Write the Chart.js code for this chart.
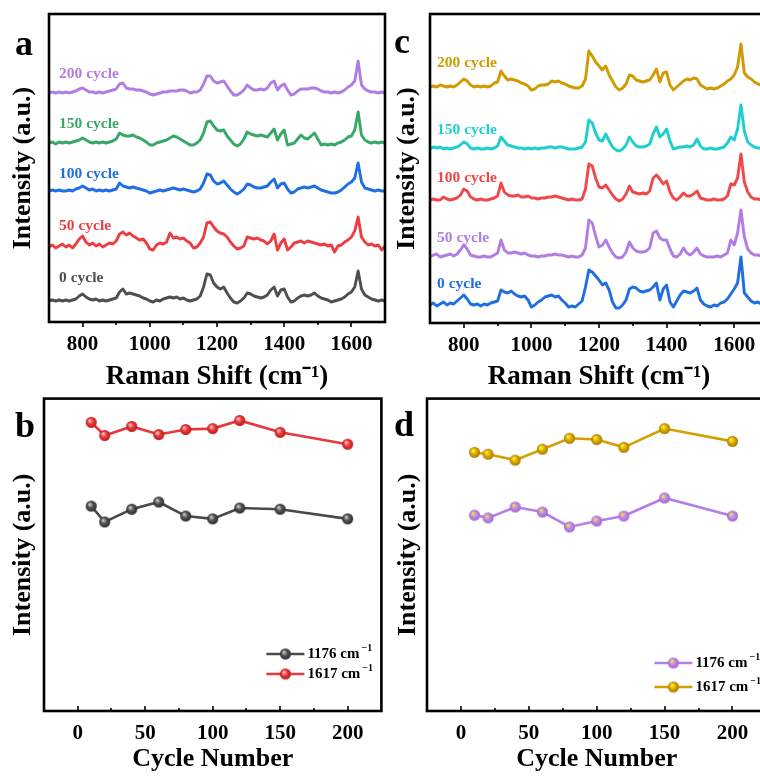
<!DOCTYPE html>
<html>
<head>
<meta charset="utf-8">
<script src="https://cdn.jsdelivr.net/npm/chart.js@4.4.1/dist/chart.umd.min.js"></script>
<style>
  html, body { margin: 0; padding: 0; background: #fff; }
  body { width: 760px; height: 776px; overflow: hidden; position: relative; }
  canvas { position: absolute; }
</style>
</head>
<body>
<canvas id="chartA" width="390" height="390" style="left:0;top:0"></canvas>
<canvas id="chartC" width="390" height="390" style="left:385px;top:0"></canvas>
<canvas id="chartB" width="390" height="386" style="left:0;top:390px"></canvas>
<canvas id="chartD" width="390" height="386" style="left:385px;top:390px"></canvas>
<script>
const FONT = "'Liberation Serif', 'Times New Roman', serif";

// raman shift grid (cm-1)
const wavenumbers = [
  700, 710, 720, 730, 740, 750, 760, 770, 780, 790,
  800, 810, 820, 830, 840, 850, 860, 870, 880, 890,
  900, 910, 920, 930, 940, 950, 960, 970, 980, 990,
  1000, 1010, 1020, 1030, 1040, 1050, 1060, 1070, 1080, 1090,
  1100, 1110, 1120, 1130, 1140, 1150, 1160, 1170, 1180, 1190,
  1200, 1210, 1220, 1230, 1240, 1250, 1260, 1270, 1280, 1290,
  1300, 1310, 1320, 1330, 1340, 1350, 1360, 1370, 1380, 1390,
  1400, 1410, 1420, 1430, 1440, 1450, 1460, 1470, 1480, 1490,
  1500, 1510, 1520, 1530, 1540, 1550, 1560, 1570, 1580, 1590,
  1600, 1610, 1620, 1630, 1640, 1650, 1660, 1670, 1680, 1690,
  1700];
const cycleNames = ['0 cycle', '50 cycle', '100 cycle', '150 cycle', '200 cycle'];

// panel a spectra (height above each trace's own baseline)
const aCycle0 = [
  0, 1, 0, 1, 0, 1, 0, 1, 2, 5,
  7, 4, 2, 1, 2, 0, 1, 0, 1, 2,
  3, 9, 12, 7, 8, 7, 6, 5, 3, 2,
  0, -1, 1, 0, 2, 3, 4, 3, 4, 2,
  3, 1, 0, 1, 2, 5, 14, 27, 26, 18,
  14, 12, 14, 8, 3, -1, -2, 0, 3, 8,
  7, 5, 4, 3, 4, 6, 11, 14, 5, 11,
  12, 4, -1, 0, 3, 5, 6, 5, 6, 8,
  5, 3, 2, 1, -1, 0, 1, 2, 4, 7,
  9, 14, 30, 12, 6, 4, 2, 1, 0, 1,
  0];
const aCycle50 = [
  0, 2, -1, 1, 3, 0, 2, -1, 3, 8,
  11, 5, 2, 4, 1, 3, 0, 2, 4, 3,
  6, 13, 15, 12, 14, 11, 9, 7, 8, 4,
  -2, -3, 2, 4, 3, 5, 14, 9, 10, 8,
  9, 6, 4, -1, 0, 4, 10, 24, 25, 20,
  16, 14, 13, 10, 5, 1, -2, -1, 1, 10,
  9, 8, 9, 7, 6, 3, 6, 13, -3, 4,
  8, -3, 0, 4, 5, 6, 4, 6, 5, 4,
  3, 2, 3, 1, 2, -5, 1, 2, 5, 7,
  10, 16, 30, 10, 5, 2, 3, 1, 2, -3,
  1];
const aCycle100 = [
  0, 1, 0, 1, 0, 0, 1, 0, 2, 3,
  5, 3, 1, 2, 0, 1, 0, 1, 0, 1,
  2, 8, 5, 4, 3, 4, 3, 2, 1, 0,
  -2, -1, 0, 1, 0, 1, 2, 3, 2, 1,
  2, 1, 0, -1, 0, 2, 8, 17, 16, 10,
  7, 8, 10, 6, 2, -1, -3, -1, 2, 7,
  6, 4, 3, 3, 4, 5, 9, 12, 3, 7,
  8, 2, -2, -1, 2, 3, 4, 3, 4, 5,
  3, 1, 0, -1, -2, -2, -1, 1, 4, 7,
  9, 13, 28, 9, 3, 2, 1, 0, 1, 0,
  0];
const aCycle150 = [
  0, 1, -1, 1, 0, 1, 0, 1, 2, 3,
  5, 3, 1, 0, 1, 0, 1, 0, 1, 2,
  4, 10, 8, 7, 7, 8, 6, 5, 3, 1,
  -2, -2, 0, 1, 2, 3, 5, 7, 6, 4,
  2, 0, -2, -2, 0, 3, 10, 21, 22, 17,
  13, 12, 13, 7, 3, -1, -3, -1, 4, 11,
  9, 8, 7, 8, 7, 6, 10, 14, 3, 9,
  13, -2, -1, 0, 4, 8, 5, 4, 7, 10,
  4, -2, -1, -2, -1, -2, 0, 1, 3, 6,
  7, 13, 31, 8, 3, 1, 0, 1, 0, 1,
  0];
const aCycle200 = [
  0, 1, 0, 1, 0, 1, 0, 1, 2, 4,
  5, 3, 1, 1, 0, 1, 0, 1, 2, 3,
  4, 9, 10, 5, 4, 4, 3, 3, 2, 1,
  -1, -2, -1, 0, 1, 1, 2, 2, 2, 3,
  3, 2, 0, 1, 1, 3, 9, 17, 17, 12,
  10, 11, 12, 7, 2, -2, -2, 0, 3, 8,
  5, 3, 3, 4, 3, 5, 10, 12, 3, 7,
  9, 3, -2, -1, 2, 4, 4, 4, 5, 5,
  4, 2, 1, 1, 0, 1, 0, 1, 3, 6,
  8, 12, 32, 8, 4, 2, 1, 1, 0, 1,
  0];
const aOffsets = [21, 75, 131, 179, 229];
const aTagLift = [19, 17, 13, 15, 15];

// panel c spectra
const cCycle0 = [
  0, 2, -1, 1, 3, 0, 2, 1, 4, 7,
  10, 6, 1, 0, 1, -1, 1, 0, 2, 3,
  4, 15, 13, 12, 14, 11, 9, 8, 9, 5,
  -2, 0, 3, 5, 8, 9, 10, 8, 9, 5,
  2, -2, -1, -2, 1, 4, 18, 35, 33, 29,
  25, 20, 22, 15, 3, -3, -3, 0, 5, 16,
  18, 17, 14, 13, 14, 15, 18, 22, 5, 16,
  20, 3, -2, 4, 10, 14, 13, 12, 14, 17,
  5, 1, -1, -2, 0, -1, 2, 3, 6, 11,
  16, 22, 48, 12, 8, 4, 2, 3, 1, 2,
  0];
const cCycle50 = [
  0, 2, 3, 0, 1, 2, 3, 1, 3, 7,
  12, 8, 2, 1, 0, 0, 1, 0, 0, 2,
  4, 17, 7, 4, 4, 5, 4, 3, 4, 2,
  1, 1, 0, 1, 1, 2, 2, 3, 2, 2,
  1, 0, 1, 0, 0, 2, 9, 37, 34, 21,
  10, 12, 17, 10, 4, 0, -1, 0, 5, 15,
  9, 6, 5, 5, 6, 9, 24, 26, 19, 17,
  17, 8, 1, 0, 3, 9, 4, 2, 5, 9,
  3, 1, 0, 0, 0, 1, 0, 2, 4, 17,
  12, 24, 47, 20, 8, 4, 2, 2, 1, 2,
  1];
const cCycle100 = [
  0, 1, 0, 0, 3, 1, 0, 1, 2, 5,
  11, 9, 3, 1, 0, 1, 0, 0, 1, 2,
  4, 17, 8, 5, 4, 4, 5, 3, 3, 4,
  2, 2, 1, 2, 2, 3, 3, 4, 3, 2,
  1, 0, 1, 0, 0, 1, 11, 36, 34, 22,
  13, 12, 15, 10, 5, 1, -1, 1, 6, 14,
  8, 7, 6, 7, 6, 9, 22, 25, 21, 16,
  19, 8, 2, 0, 3, 7, 4, 4, 6, 9,
  2, 1, 0, 0, 1, 0, 0, 1, 4, 16,
  15, 22, 46, 18, 8, 3, 1, 1, 0, 1,
  0];
const cCycle150 = [
  0, 2, 1, 2, 0, 1, 0, 1, 2, 4,
  7, 5, 1, 0, 1, 0, 0, 1, 0, 1,
  3, 12, 8, 4, 3, 2, 1, 1, 0, 1,
  0, 1, 0, 1, 1, 2, 2, 1, 2, 2,
  1, 0, 0, 0, 1, 2, 7, 29, 26, 16,
  9, 8, 15, 8, 2, -1, -2, 0, 4, 12,
  7, 3, 2, 2, 3, 5, 15, 22, 12, 15,
  20, 8, 0, 1, 2, 2, 3, 2, 4, 10,
  3, 0, 0, 1, 0, 0, 1, 2, 6, 12,
  9, 20, 44, 18, 7, 4, 2, 1, 1, 0,
  0];
const cCycle200 = [
  0, 1, 0, 2, 1, 0, 1, 0, 2, 5,
  8, 6, 2, 0, 1, 0, 1, 0, 1, 4,
  5, 16, 11, 7, 8, 7, 6, 4, 3, 1,
  -3, -2, 1, 2, 2, 3, 6, 5, 6, 4,
  3, 1, 0, -1, -1, 1, 8, 36, 31, 25,
  21, 17, 21, 12, 6, 0, -3, -1, 3, 12,
  11, 7, 6, 5, 6, 7, 12, 18, 5, 14,
  15, 2, -3, 0, 3, 6, 8, 7, 9, 8,
  2, 0, -2, -1, -2, -1, 1, 3, 6, 8,
  12, 20, 43, 14, 10, 8, 5, 3, 2, 1,
  0];
const cOffsets = [18, 66, 123, 174, 236];
const cTagLift = [17, 15, 18, 15, 20];

// panels b and d: peak intensity vs cycle number
const cycles = [10, 20, 40, 60, 80, 100, 120, 150, 200];
const b1176 = [65.6, 60.5, 64.6, 66.9, 62.4, 61.5, 65.0, 64.6, 61.5];
const b1617 = [92.4, 88.2, 91.1, 88.5, 90.1, 90.4, 93.0, 89.2, 85.4];
const d1176 = [62.7, 61.8, 65.3, 63.7, 58.9, 60.8, 62.4, 68.2, 62.4];
const d1617 = [82.8, 82.2, 80.3, 83.8, 87.3, 86.9, 84.4, 90.4, 86.3];
const peakNames = ['1176 cm⁻¹', '1617 cm⁻¹'];

const ramanTicks = [800, 1000, 1200, 1400, 1600];
const ramanMinor = [900, 1100, 1300, 1500];
const cycleTicks = [0, 50, 100, 150, 200];
const cycleMinor = [25, 75, 125, 175];

// little shaded ball used as the marker
function sphere(light, mid, edge, r) {
  const c = document.createElement('canvas');
  c.width = c.height = Math.ceil(r * 2) + 2;
  const g = c.getContext('2d');
  const m = c.width / 2;
  const grad = g.createRadialGradient(m - r * 0.3, m - r * 0.35, r * 0.1, m, m, r);
  grad.addColorStop(0, light);
  grad.addColorStop(0.45, mid);
  grad.addColorStop(1, edge);
  g.fillStyle = grad;
  g.beginPath();
  g.arc(m, m, r, 0, Math.PI * 2);
  g.fill();
  return c;
}

const decor = {
  id: 'decor',
  afterDatasetsDraw(chart, args, o) {
    const { ctx, chartArea: a } = chart;
    const x = chart.scales.x, y = chart.scales.y;
    ctx.save();
    // tick marks
    ctx.strokeStyle = '#000';
    ctx.lineWidth = 1.6;
    ctx.beginPath();
    o.major.forEach(v => {
      const p = Math.round(x.getPixelForValue(v));
      ctx.moveTo(p, a.bottom); ctx.lineTo(p, a.bottom + o.dir * 5);
    });
    o.minor.forEach(v => {
      const p = Math.round(x.getPixelForValue(v));
      ctx.moveTo(p, a.bottom); ctx.lineTo(p, a.bottom + o.dir * 3);
    });
    ctx.stroke();
    // frame
    ctx.lineWidth = 2.6;
    ctx.strokeRect(a.left, a.top, a.right - a.left, a.bottom - a.top);
    // panel letter
    ctx.fillStyle = '#000';
    ctx.textBaseline = 'alphabetic';
    ctx.font = 'bold 36px ' + FONT;
    ctx.fillText(o.letter, o.lx, o.ly);

    // cycle names next to each trace
    if (o.tags) {
      ctx.font = 'bold 15.5px ' + FONT;
      chart.data.datasets.forEach((ds, i) => {
        ctx.fillStyle = ds.borderColor;
        ctx.fillText(ds.label, x.getPixelForValue(o.tagX), y.getPixelForValue(ds.baseline + ds.tagLift));
      });
    }

    // legend: line + ball + label
    if (o.legend) {
      chart.data.datasets.forEach((ds, i) => {
        const x0 = a.right - o.legendX;
        const yy = a.bottom - o.legendY + i * o.legendGap;
        ctx.strokeStyle = ds.borderColor;
        ctx.lineWidth = 2.5;
        ctx.beginPath(); ctx.moveTo(x0, yy); ctx.lineTo(x0 + 38, yy); ctx.stroke();
        const img = ds.pointStyle;
        ctx.drawImage(img, x0 + 19 - img.width / 2, yy - img.height / 2);
        const base = ds.label.replace('⁻¹', '');
        ctx.fillStyle = '#000';
        ctx.textBaseline = 'middle';
        ctx.font = 'bold 15px ' + FONT;
        ctx.fillText(base, x0 + 41, yy);
        const w = ctx.measureText(base).width;
        ctx.font = 'bold 10px ' + FONT;
        ctx.fillText('−1', x0 + 43 + w, yy - 6);
      });
    }
    ctx.restore();
  }
};

function axisX(min, max, ticks, box, title, titleSize, titlePad) {
  return {
    type: 'linear', min: min, max: max,
    grid: { display: false }, border: { display: false },
    afterBuildTicks: s => { s.ticks = ticks.map(v => ({ value: v })); },
    afterFit: s => { s.height = box.xh; },
    ticks: { color: '#000', padding: 2, autoSkip: false, maxRotation: 0,
             callback: v => String(v),
             font: { family: FONT, size: 21, weight: 'bold' } },
    title: { display: true, text: title, color: '#000',
             font: { family: FONT, size: titleSize, weight: 'bold', lineHeight: 1 },
             padding: { top: 0, bottom: titlePad } }
  };
}

function axisY(max, box) {
  return {
    min: 0, max: max,
    ticks: { display: false }, grid: { display: false }, border: { display: false },
    afterFit: s => { s.width = box.yw; },
    title: { display: true, text: 'Intensity (a.u.)', color: '#000',
             font: { family: FONT, size: 26, weight: 'bold', lineHeight: 1 },
             padding: { top: box.tp, bottom: 0 } }
  };
}

function spectraChart(id, series, offsets, lifts, colors, box, letter) {
  const datasets = series.map((vals, i) => ({
    label: cycleNames[i],
    data: wavenumbers.map((w, j) => ({ x: w, y: offsets[i] + vals[j] })),
    borderColor: colors[i],
    borderWidth: 2.9,
    borderJoinStyle: 'round',
    pointRadius: 0,
    tension: 0,
    baseline: offsets[i],
    tagLift: lifts[i]
  }));
  return new Chart(document.getElementById(id), {
    type: 'line',
    data: { datasets },
    options: {
      responsive: false, animation: false, devicePixelRatio: 1,
      events: [],
      layout: { padding: { top: box.top, right: box.right, left: 0, bottom: 0 } },
      plugins: {
        legend: { display: false }, tooltip: { enabled: false },
        decor: { major: ramanTicks, minor: ramanMinor, dir: 1, letter: letter.t, lx: letter.x, ly: letter.y,
                 tags: true, tagX: box.tagX }
      },
      scales: {
        x: axisX(700, 1700, ramanTicks, box, 'Raman Shift (cm⁻¹)', 27, -1),
        y: axisY(box.ymax, box)
      }
    },
    plugins: [decor]
  });
}

function trendChart(id, series, colors, balls, box, letter) {
  const datasets = series.map((vals, i) => ({
    label: peakNames[i],
    data: cycles.map((c, j) => ({ x: c, y: vals[j] })),
    borderColor: colors[i],
    borderWidth: 2.6,
    pointStyle: balls[i],
    pointRadius: 6,
    tension: 0
  }));
  return new Chart(document.getElementById(id), {
    type: 'line',
    data: { datasets },
    options: {
      responsive: false, animation: false, devicePixelRatio: 1,
      events: [],
      layout: { padding: { top: box.top, right: box.right, left: 0, bottom: 0 } },
      plugins: {
        legend: { display: false }, tooltip: { enabled: false },
        decor: { major: cycleTicks, minor: cycleMinor, dir: -1, letter: letter.t, lx: letter.x, ly: letter.y,
                 tags: false, legend: true, legendX: box.legendX, legendY: box.legendY, legendGap: box.legendGap }
      },
      scales: {
        x: axisX(-25, 225, cycleTicks, box, 'Cycle Number', 26, 4),
        y: axisY(100, box)
      }
    },
    plugins: [decor]
  });
}

spectraChart('chartA',
  [aCycle0, aCycle50, aCycle100, aCycle150, aCycle200], aOffsets, aTagLift,
  ['#4f4f4f', '#ee3d42', '#1f6fe3', '#38a866', '#b27de3'],
  { top: 14, right: 5, xh: 68, yw: 49, tp: 10, ymax: 308, tagX: 730 },
  { t: 'a', x: 15, y: 55 });

spectraChart('chartC',
  [cCycle0, cCycle50, cCycle100, cCycle150, cCycle200], cOffsets, cTagLift,
  ['#1f6fe0', '#b27de3', '#f04848', '#1fcfcf', '#d09a00'],
  { top: 14, right: 7, xh: 67, yw: 45, tp: 9, ymax: 309, tagX: 721 },
  { t: 'c', x: 9, y: 53 });

trendChart('chartB', [b1176, b1617],
  ['#4a4a4a', '#e8383d'],
  [sphere('#c8c8c8', '#565656', '#2a2a2a', 5.5), sphere('#ffc4c4', '#ee3b3b', '#b81a1a', 5.5)],
  { top: 7, right: 5, xh: 65, yw: 44, tp: 10, legendX: 115, legendY: 57, legendGap: 20 },
  { t: 'b', x: 15, y: 47 });

trendChart('chartD', [d1176, d1617],
  ['#b57fe6', '#d4a000'],
  [sphere('#f2e23a', '#c08ce4', '#a068d6', 5.5), sphere('#fff23a', '#e0b000', '#a87800', 5.5)],
  { top: 7, right: 8, xh: 65, yw: 42, tp: 10, legendX: 112, legendY: 48, legendGap: 24 },
  { t: 'd', x: 9, y: 46 });
</script>
</body>
</html>
